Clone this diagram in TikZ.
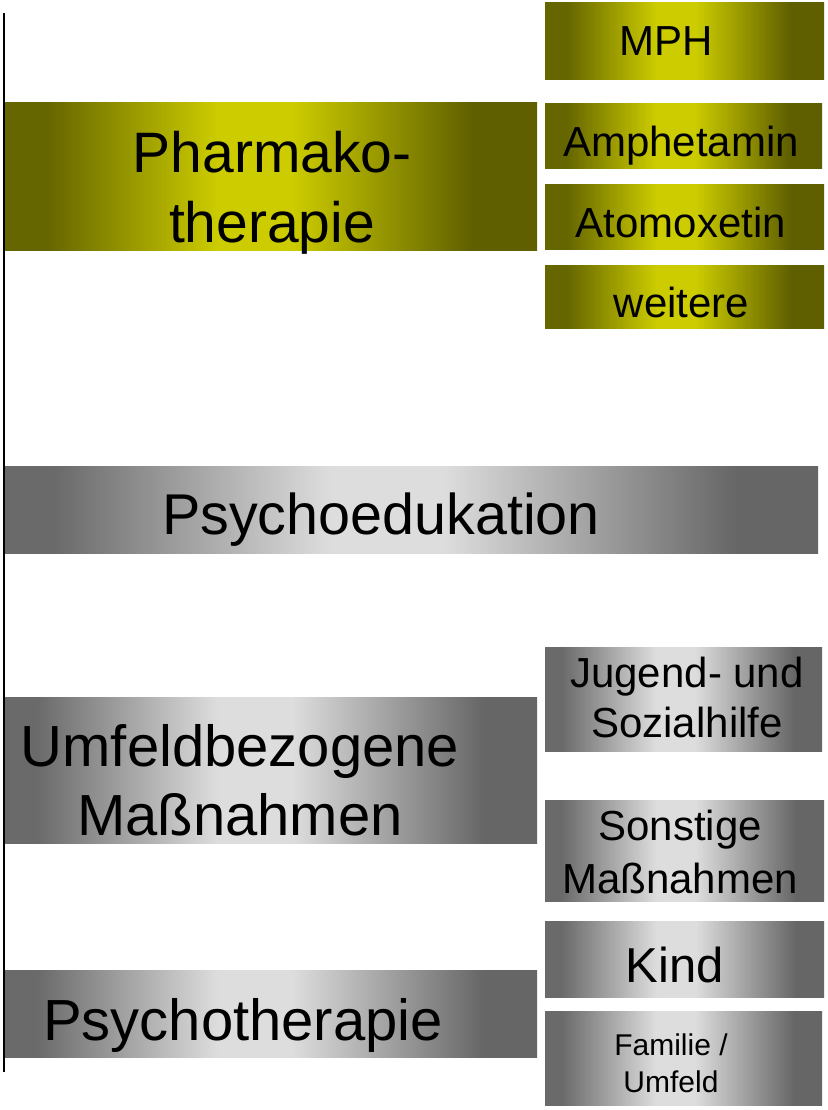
\documentclass[tikz,border=0pt]{standalone}
\usepackage{fontspec}
\setmainfont{Liberation Sans}
\definecolor{olL}{HTML}{666600}
\definecolor{olB}{HTML}{CCCC00}
\definecolor{olR}{HTML}{5F5F00}
\definecolor{grL}{HTML}{6A6A6A}
\definecolor{grB}{HTML}{DDDDDD}
\definecolor{grR}{HTML}{666666}
\pgfdeclarehorizontalshading{olivebar}{100bp}{color(0bp)=(olL); color(25bp)=(olL); color(29bp)=(olL); color(45bp)=(olB); color(52bp)=(olB); color(69bp)=(olR); color(75bp)=(olR); color(100bp)=(olR)}
\pgfdeclarehorizontalshading{graybar}{100bp}{color(0bp)=(grL); color(25bp)=(grL); color(28bp)=(grL); color(45bp)=(grB); color(52bp)=(grB); color(70bp)=(grR); color(75bp)=(grR); color(100bp)=(grR)}
\newcommand{\mylines}[1]{\begin{tabular}[t]{@{}c@{}}#1\end{tabular}}
\tikzset{
  bar/.style={rectangle, inner sep=0pt, outer sep=0pt, anchor=north west, draw=none},
  olivebox/.style={bar, shade, shading=olivebar},
  greybox/.style={bar, shade, shading=graybar},
  lbl/.style={inner sep=0pt, outer sep=0pt, anchor=base, text=black},
}
\begin{document}
\begin{tikzpicture}[x=1pt, y=-1pt]
\useasboundingbox (0,0) rectangle (827,1110);
\fill[white] (0,0) rectangle (827,1110);
% vertical line
\coordinate (ltop) at (4,13);
\coordinate (lbot) at (4,1072);
\draw[line width=2pt, black] (ltop) -- (lbot);
% boxes
\node[olivebox, minimum width=279pt, minimum height=77pt] (mph) at (545,3) {};
\node[olivebox, minimum width=532pt, minimum height=147pt] (pharma) at (5,103) {};
\node[olivebox, minimum width=277pt, minimum height=65pt] (amph) at (545,104) {};
\node[olivebox, minimum width=279pt, minimum height=64pt] (atom) at (545,185) {};
\node[olivebox, minimum width=279pt, minimum height=63pt] (weit) at (545,265) {};
\node[greybox, minimum width=813pt, minimum height=87pt] (psyed) at (5,466) {};
\node[greybox, minimum width=277pt, minimum height=104pt] (jug) at (545,647) {};
\node[greybox, minimum width=532pt, minimum height=146pt] (umf) at (5,697) {};
\node[greybox, minimum width=279pt, minimum height=101pt] (sonst) at (545,800) {};
\node[greybox, minimum width=279pt, minimum height=76pt] (kind) at (545,921) {};
\node[greybox, minimum width=532pt, minimum height=87pt] (psyth) at (5,970) {};
\node[greybox, minimum width=277pt, minimum height=94pt] (fam) at (545,1011) {};
% texts
\node[lbl, font=\fontsize{42pt}{50pt}\selectfont] (tmph) at (666,56) {MPH};
\node[lbl, font=\fontsize{57pt}{70pt}\selectfont] (tpharma) at (272,173) {\mylines{Pharmako-\\therapie}};
\node[lbl, font=\fontsize{42pt}{50pt}\selectfont] (tamph) at (681,157) {Amphetamin};
\node[lbl, font=\fontsize{42pt}{50pt}\selectfont] (tatom) at (681,237) {Atomoxetin};
\node[lbl, font=\fontsize{42pt}{50pt}\selectfont] (tweit) at (681.5,317) {weitere};
\node[lbl, font=\fontsize{57.5pt}{69pt}\selectfont] (tpsyed) at (381,534) {Psychoedukation};
\node[lbl, font=\fontsize{42pt}{50pt}\selectfont] (tjug) at (687,687) {\mylines{Jugend- und\\Sozialhilfe}};
\node[lbl, font=\fontsize{58pt}{69pt}\selectfont] (tumf) at (240,766) {\mylines{Umfeldbezogene\\Maßnahmen}};
\node[lbl, font=\fontsize{42pt}{53pt}\selectfont] (tsonst) at (680,840) {\mylines{Sonstige\\Maßnahmen}};
\node[lbl, font=\fontsize{49pt}{59pt}\selectfont] (tkind) at (675,982) {Kind};
\node[lbl, font=\fontsize{58pt}{69pt}\selectfont] (tpsyth) at (243,1040) {Psychotherapie};
\node[lbl, font=\fontsize{30pt}{37pt}\selectfont] (tfam) at (671,1055) {\mylines{Familie /\\Umfeld}};
\end{tikzpicture}
\end{document}
